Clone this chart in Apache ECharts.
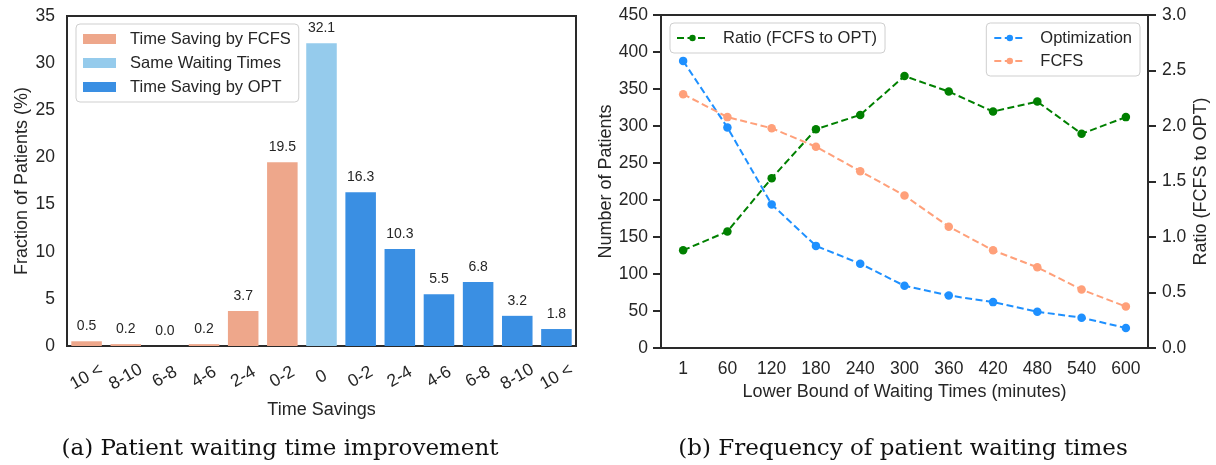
<!DOCTYPE html>
<html>
<head>
<meta charset="utf-8">
<script src="https://cdn.jsdelivr.net/npm/echarts@6/dist/echarts.min.js"></script>
<style>
html,body{margin:0;padding:0;background:#fff;}
#c{width:1216px;height:465px;}
</style>
</head>
<body>
<div id="c"></div>
<script>
// ---- Data (a): patient waiting time improvement ----
const savingCategories = ['10 <','8-10','6-8','4-6','2-4','0-2','0','0-2','2-4','4-6','6-8','8-10','10 <'];
const savingValues = [0.5, 0.2, 0.0, 0.2, 3.7, 19.5, 32.1, 16.3, 10.3, 5.5, 6.8, 3.2, 1.8];
const savingGroups = ['FCFS','FCFS','FCFS','FCFS','FCFS','FCFS','SAME','OPT','OPT','OPT','OPT','OPT','OPT'];
const groupNames = {FCFS: 'Time Saving by FCFS', SAME: 'Same Waiting Times', OPT: 'Time Saving by OPT'};
const groupOrder = ['FCFS','SAME','OPT'];

// ---- Data (b): frequency of patient waiting times ----
const waitCategories = ['1','60','120','180','240','300','360','420','480','540','600'];
const optCounts  = [388, 298, 194, 138, 114, 84, 71, 62, 49, 41, 27];
const fcfsCounts = [343, 312, 297, 272, 239, 206, 164, 132, 109, 79, 56];
const ratioValues = [0.88, 1.05, 1.53, 1.97, 2.10, 2.45, 2.31, 2.13, 2.22, 1.93, 2.08];

const leftTicks = {min: 0, max: 35, interval: 5};
const countTicks = {min: 0, max: 450, interval: 50};
const ratioTicks = {min: 0, max: 3, interval: 0.5};

const captions = ['(a) Patient waiting time improvement', '(b) Frequency of patient waiting times'];

// ---- Styles ----
const FONT = 'Liberation Sans, Arial, sans-serif';
const TXT = '#262626';
const FRAME = '#2a2a2a';
const barColors = {FCFS: '#EEA78B', SAME: '#95CBEC', OPT: '#3A8FE3'};

const chart = echarts.init(document.getElementById('c'), null, {renderer: 'canvas'});

const barSeries = groupOrder.map(g => ({
  name: groupNames[g],
  type: 'bar',
  xAxisIndex: 0,
  yAxisIndex: 0,
  stack: 'saving',
  barCategoryGap: '22%',
  itemStyle: {color: barColors[g]},
  label: {
    show: true,
    position: 'top',
    distance: 8,
    color: TXT,
    fontFamily: FONT,
    fontSize: 14,
    formatter: p => (typeof p.value === 'number' ? p.value.toFixed(1) : '')
  },
  data: savingValues.map((v, i) => savingGroups[i] === g ? v : '-')
}));

const lineCommon = (name, data, color, yIdx, z) => ({
  name: name,
  type: 'line',
  xAxisIndex: 1,
  yAxisIndex: yIdx,
  data: data,
  z: z,
  symbol: 'circle',
  symbolSize: 8.5,
  showSymbol: true,
  color: color,
  itemStyle: {color: color},
  lineStyle: {color: color, width: 2, type: [7, 3.5]},
  animation: false
});

const axisLabelStyle = {color: TXT, fontFamily: FONT, fontSize: 17.5};
const nameStyle = {color: TXT, fontFamily: FONT, fontSize: 18};
const legendText = {color: TXT, fontFamily: FONT, fontSize: 16.5, lineHeight: 18, padding: [0, 0, 0, 10]};

const option = {
  backgroundColor: '#fff',
  animation: false,
  textStyle: {fontFamily: FONT},
  grid: [
    {left: 67, top: 16, width: 509, height: 330, show: true, borderColor: FRAME, borderWidth: 2, backgroundColor: 'transparent'},
    {left: 661, top: 15, width: 487, height: 333, show: true, borderColor: FRAME, borderWidth: 2, backgroundColor: 'transparent'}
  ],
  legend: [
    {
      data: groupOrder.map(g => groupNames[g]),
      orient: 'vertical',
      left: 76, top: 24,
      icon: 'rect',
      itemWidth: 33, itemHeight: 10,
      itemGap: 6,
      padding: [6, 8, 6, 7],
      borderColor: '#cfcfcf', borderWidth: 1, borderRadius: 4,
      backgroundColor: 'rgba(255,255,255,0.85)',
      textStyle: Object.assign({}, legendText, {padding: [0, 0, 0, 9]})
    },
    {
      data: ['Ratio (FCFS to OPT)'],
      orient: 'vertical',
      left: 670, top: 23,
      itemWidth: 31, itemHeight: 8,
      padding: [6, 8, 6, 6],
      borderColor: '#cfcfcf', borderWidth: 1, borderRadius: 4,
      backgroundColor: 'rgba(255,255,255,0.85)',
      textStyle: legendText
    },
    {
      data: ['Optimization', 'FCFS'],
      orient: 'vertical',
      right: 76, top: 23,
      itemWidth: 31, itemHeight: 8,
      itemGap: 5,
      padding: [6, 8, 6, 7],
      borderColor: '#cfcfcf', borderWidth: 1, borderRadius: 4,
      backgroundColor: 'rgba(255,255,255,0.85)',
      textStyle: legendText
    }
  ],
  xAxis: [
    {
      gridIndex: 0,
      type: 'category',
      data: savingCategories,
      axisLine: {show: false},
      axisTick: {show: false},
      splitLine: {show: false},
      axisLabel: Object.assign({}, axisLabelStyle, {interval: 0, rotate: 30, align: 'center', verticalAlign: 'middle', margin: 31}),
      name: 'Time Savings',
      nameLocation: 'middle',
      nameGap: 55,
      nameTextStyle: nameStyle
    },
    {
      gridIndex: 1,
      type: 'category',
      data: waitCategories,
      boundaryGap: true,
      axisLine: {show: false},
      axisTick: {show: false},
      splitLine: {show: false},
      axisLabel: Object.assign({}, axisLabelStyle, {interval: 0, margin: 12}),
      name: 'Lower Bound of Waiting Times (minutes)',
      nameLocation: 'middle',
      nameGap: 34,
      nameTextStyle: nameStyle
    }
  ],
  yAxis: [
    {
      gridIndex: 0,
      type: 'value',
      min: leftTicks.min, max: leftTicks.max, interval: leftTicks.interval,
      axisLine: {show: false},
      axisTick: {show: false},
      splitLine: {show: false},
      axisLabel: Object.assign({}, axisLabelStyle, {margin: 12}),
      name: 'Fraction of Patients (%)',
      nameLocation: 'middle',
      nameGap: 36,
      nameTextStyle: nameStyle
    },
    {
      gridIndex: 1,
      type: 'value',
      position: 'left',
      min: countTicks.min, max: countTicks.max, interval: countTicks.interval,
      axisLine: {show: false},
      axisTick: {show: true, inside: false, length: 8, lineStyle: {color: FRAME, width: 2}},
      splitLine: {show: false},
      axisLabel: Object.assign({}, axisLabelStyle, {margin: 13}),
      name: 'Number of Patients',
      nameLocation: 'middle',
      nameGap: 44,
      nameTextStyle: nameStyle
    },
    {
      gridIndex: 1,
      type: 'value',
      position: 'right',
      min: ratioTicks.min, max: ratioTicks.max, interval: ratioTicks.interval,
      axisLine: {show: false},
      axisTick: {show: true, inside: false, length: 8, lineStyle: {color: FRAME, width: 2}},
      splitLine: {show: false},
      axisLabel: Object.assign({}, axisLabelStyle, {margin: 14, formatter: v => v.toFixed(1)}),
      name: 'Ratio (FCFS to OPT)',
      nameLocation: 'middle',
      nameGap: 44,
      nameTextStyle: nameStyle
    }
  ],
  series: barSeries.concat([
    lineCommon('Optimization', optCounts, '#1E90FF', 1, 3),
    lineCommon('FCFS', fcfsCounts, '#FFA07A', 1, 3),
    lineCommon('Ratio (FCFS to OPT)', ratioValues, '#008000', 2, 4)
  ]),
  graphic: [
    {type: 'text', x: 280, y: 449, style: {text: captions[0], font: '23px "DejaVu Serif", serif', fill: '#111', textAlign: 'center', textVerticalAlign: 'middle'}},
    {type: 'text', x: 903, y: 449, style: {text: captions[1], font: '23px "DejaVu Serif", serif', fill: '#111', textAlign: 'center', textVerticalAlign: 'middle'}}
  ]
};

chart.setOption(option);
</script>
</body>
</html>
